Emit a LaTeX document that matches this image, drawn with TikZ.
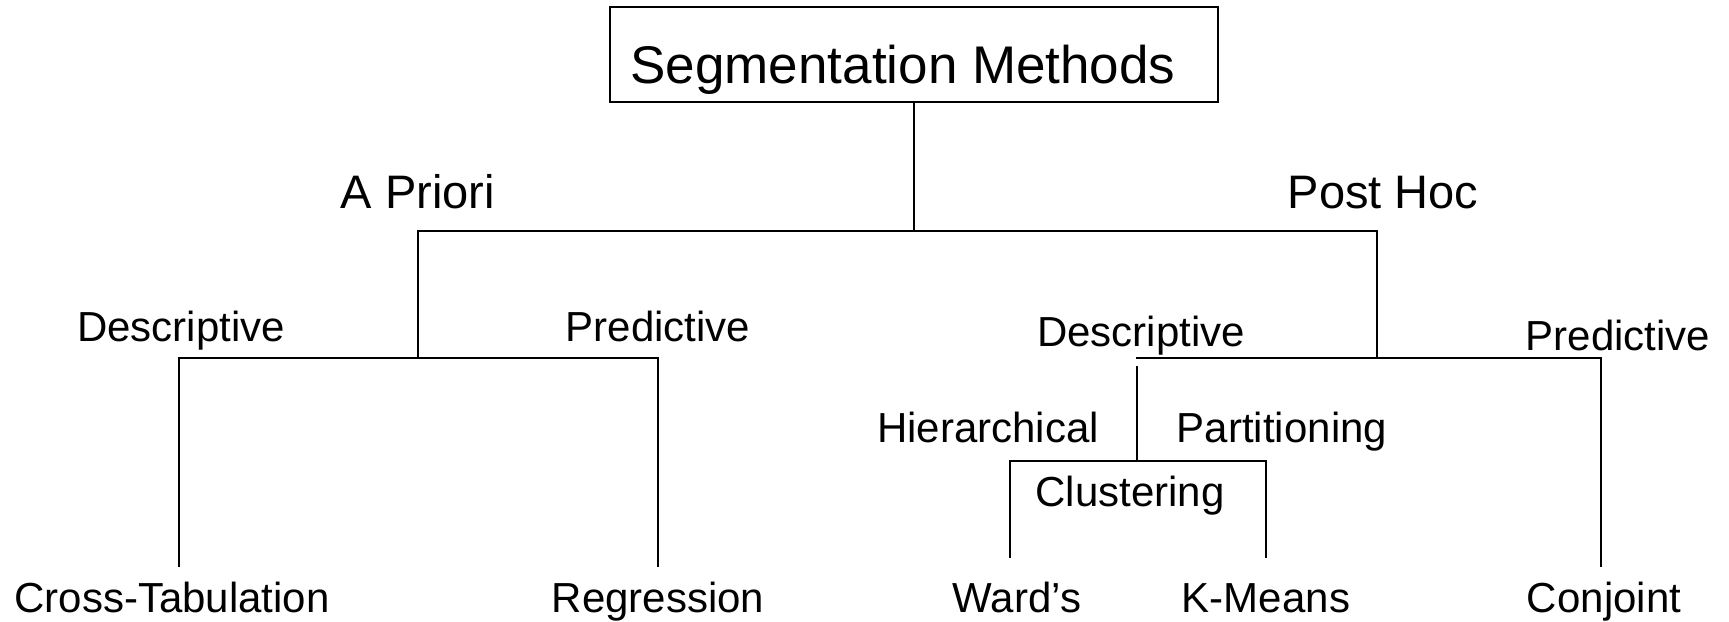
\documentclass[tikz,border=0pt]{standalone}
\usepackage{fontspec}
\setmainfont{Liberation Sans}
\begin{document}
\begin{tikzpicture}[x=1pt,y=-1pt,
  lbl/.style={inner sep=0pt, anchor=base, font=\fontsize{42}{42}\selectfont},
  big/.style={inner sep=0pt, anchor=base, font=\fontsize{47}{47}\selectfont},
  wire/.style={line width=2pt, line cap=rect}]
\useasboundingbox (0,0) rectangle (1729,621);

% title box
\node[draw, line width=2pt, minimum width=608pt, minimum height=95pt, inner sep=0pt] (root) at (914,54.5) {};
\node[inner sep=0pt, anchor=base, font=\fontsize{53}{53}\selectfont] (title) at (903,83) {Segmentation Methods};

% first level
\node[big] (apriori) at (418,208) {A Priori};
\node[big] (posthoc) at (1383,208) {Post Hoc};

% second level
\node[lbl] (adesc) at (181,341) {Descriptive};
\node[lbl] (apred) at (658,341) {Predictive};
\node[lbl] (pdesc) at (1141,346) {Descriptive};
\node[lbl] (ppred) at (1618,350) {Predictive};

% clustering level
\node[lbl] (hier) at (988,442) {Hierarchical};
\node[lbl] (part) at (1282,442) {Partitioning};
\node[lbl] (clust) at (1130,506) {Clustering};

% leaves
\node[lbl] (cross) at (172,612) {Cross-Tabulation};
\node[lbl] (regr) at (658,612) {Regression};
\node[lbl] (ward) at (1017,612) {Ward’s};
\node[lbl] (kmeans) at (1266,612) {K-Means};
\node[lbl] (conj) at (1604,612) {Conjoint};

% junction points
\coordinate (j0) at (914,230.5);
\coordinate (jA) at (418,230.5);
\coordinate (jP) at (1377,230.5);
\coordinate (jA2) at (418,358);
\coordinate (jP2) at (1377,358);
\coordinate (aL) at (179,358);
\coordinate (aR) at (658,358);
\coordinate (aLb) at (179,566);
\coordinate (aRb) at (658,566);
\coordinate (pL) at (1137,358);
\coordinate (pR) at (1601,358);
\coordinate (pRb) at (1601,566);
\coordinate (cT) at (1137,367);
\coordinate (cM) at (1137,461);
\coordinate (cL) at (1010,461);
\coordinate (cR) at (1266,461);
\coordinate (cLb) at (1010,557);
\coordinate (cRb) at (1266,557);

% connectors
\draw[wire] (root.south) -- (j0);
\draw[wire] (jA) -- (jP);
\draw[wire] (jA) -- (jA2);
\draw[wire] (aLb) -- (aL) -- (aR) -- (aRb);
\draw[wire] (jP) -- (jP2);
\draw[wire] (pL) -- (pR) -- (pRb);
\draw[wire] (cT) -- (cM);
\draw[wire] (cLb) -- (cL) -- (cR) -- (cRb);
\end{tikzpicture}
\end{document}
